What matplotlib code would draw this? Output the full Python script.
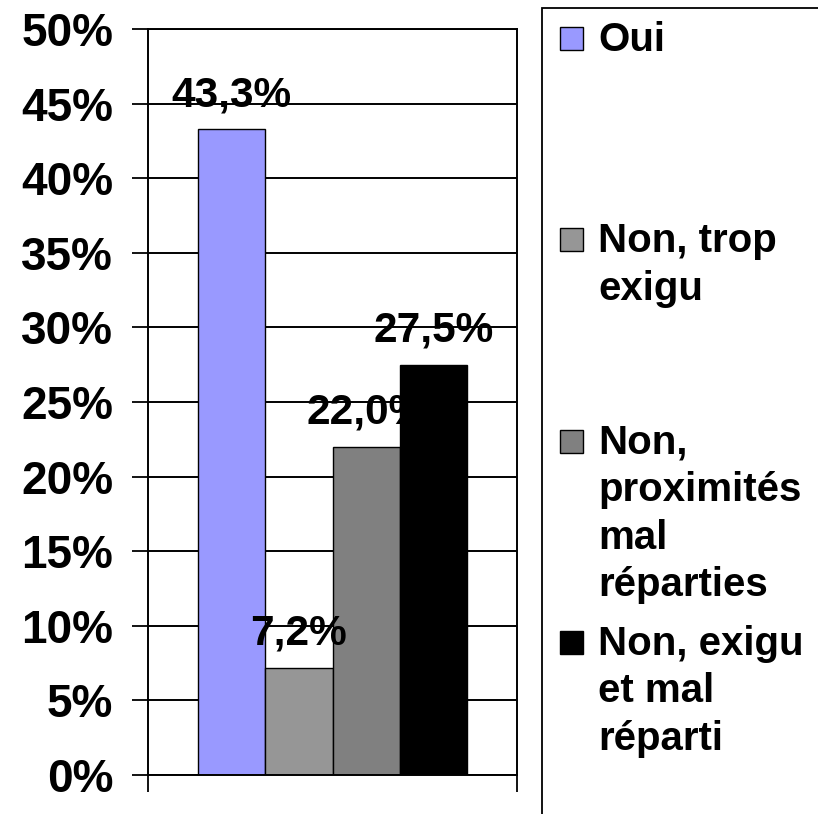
import matplotlib
matplotlib.use("Agg")
import matplotlib.pyplot as plt
from matplotlib.patches import Rectangle

# ---- data ----
categories = ["Oui", "Non, trop\nexigu", "Non,\nproximités\nmal\nréparties", "Non, exigu\net mal\nréparti"]
values = [43.3, 7.2, 22.0, 27.5]
colors = ["#9999FF", "#969696", "#808080", "#000000"]
yticks = [0, 5, 10, 15, 20, 25, 30, 35, 40, 45, 50]
ytick_labels = [f"{t}%" for t in yticks]

W, H = 818, 814
DPI = 100
FONT = "Liberation Sans"

fig = plt.figure(figsize=(W / DPI, H / DPI), dpi=DPI)
fig.patch.set_facecolor("white")

def fx(px):
    return px / W

def fy(py):
    return 1 - py / H

# plot area in pixels
L, R, T, B = 148, 517, 29, 775
ax = fig.add_axes([fx(L), fy(B), fx(R) - fx(L), fy(T) - fy(B)])
ax.set_xlim(-0.5, 0.5)
ax.set_ylim(0, 50)

n = len(values)
bw = 0.1823
offsets = [(i - (n - 1) / 2) * bw for i in range(n)]
for i, (v, c, off) in enumerate(zip(values, colors, offsets)):
    z = 4 if i == n - 1 else 2
    ax.bar(off, v, width=bw, color=c, edgecolor="black", linewidth=1.0, zorder=z)
    lab = f"{v:.1f}%".replace(".", ",")
    ax.annotate(lab, xy=(off, v), xytext=(0, 16.5), textcoords="offset points",
                ha="center", va="baseline", fontsize=30.5, fontweight="bold",
                family=FONT, zorder=3)

ax.set_yticks(yticks)
ax.set_yticklabels(ytick_labels, fontsize=33, fontweight="bold", family=FONT)
ax.tick_params(axis="y", length=11.5, width=1.3, pad=13.5, color="black")
ax.set_xticks([-0.5, 0.5])
ax.set_xticklabels(["", ""])
ax.tick_params(axis="x", length=12, width=1.3, color="black")
ax.yaxis.grid(True, color="black", linewidth=1.4, zorder=0)
ax.set_axisbelow(True)
for s in ax.spines.values():
    s.set_color("black")
    s.set_linewidth(1.4)

# ---- legend (manual, Excel style) ----
fig.patches.append(Rectangle((fx(542), fy(830)), fx(900) - fx(542), fy(8) - fy(830),
                             transform=fig.transFigure, facecolor="white",
                             edgecolor="black", linewidth=1.3, zorder=1))
first_baseline = 51
entry_step = 201.3
line_step = 47.5
msize = 23
for i, (lab, c) in enumerate(zip(categories, colors)):
    base = first_baseline + i * entry_step
    fig.patches.append(Rectangle((fx(560), fy(base - 1)), fx(msize), msize / H,
                                 transform=fig.transFigure, facecolor=c,
                                 edgecolor="black", linewidth=1.0, zorder=2))
    for k, line in enumerate(lab.split("\n")):
        fig.text(fx(598), fy(base + k * line_step), line, ha="left", va="baseline",
                 fontsize=29, fontweight="bold", family=FONT, zorder=3)

fig.savefig("out.png", dpi=DPI, facecolor="white")
